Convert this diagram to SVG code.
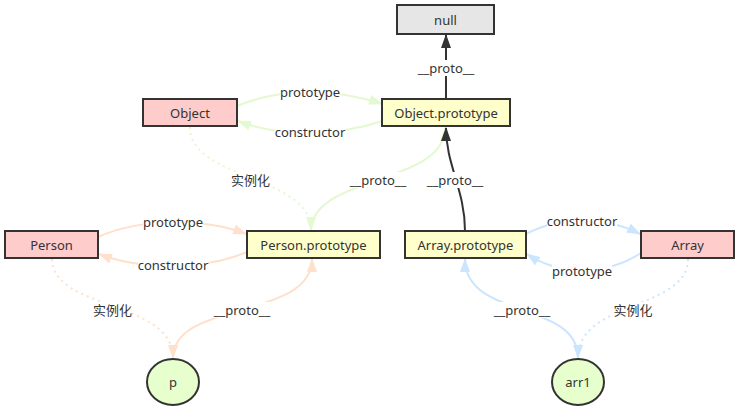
<svg xmlns="http://www.w3.org/2000/svg" width="741" height="409" viewBox="0 0 741 409">
<style>
text{font-family:"Noto Sans","Noto Sans CJK SC",sans-serif;font-size:13px;fill:#333;text-anchor:middle;dominant-baseline:central}
.node{stroke:#333;stroke-width:2}
.ctor{fill:#ffcccc}.proto{fill:#ffffcc}.nul{fill:#e6e6e6}.inst{fill:#e6ffcc}
.e{fill:none;stroke-width:2}
.g{stroke:#e3f9cf}.o{stroke:#ffe0cc}.b{stroke:#cce5ff}.k{stroke:#333}
.dot{stroke-dasharray:2 4}
.lb{fill:#fff}
</style>
<defs>
<marker id="ag" markerUnits="userSpaceOnUse" markerWidth="14" markerHeight="10" refX="13" refY="5" orient="auto"><path d="M0,0L14,5L0,10z" fill="#e3f9cf"/></marker>
<marker id="ao" markerUnits="userSpaceOnUse" markerWidth="14" markerHeight="10" refX="13" refY="5" orient="auto"><path d="M0,0L14,5L0,10z" fill="#ffe0cc"/></marker>
<marker id="ab" markerUnits="userSpaceOnUse" markerWidth="14" markerHeight="10" refX="13" refY="5" orient="auto"><path d="M0,0L14,5L0,10z" fill="#cce5ff"/></marker>
<marker id="ak" markerUnits="userSpaceOnUse" markerWidth="14" markerHeight="10" refX="13" refY="5" orient="auto"><path d="M0,0L14,5L0,10z" fill="#333"/></marker>
</defs>
<g id="connectors">
<path class="e k" d="M446,99L446,35" marker-end="url(#ak)"/>
<path class="e g" d="M237,106C280,88 335,88 382,104" marker-end="url(#ag)"/>
<path class="e g" d="M382,121C335,137 280,137 238,121" marker-end="url(#ag)"/>
<path class="e g dot" d="M190,127C190,180 311,175 311,230" marker-end="url(#ag)"/>
<path class="e g" d="M311,231C311,175 445,185 445,128" marker-end="url(#ag)"/>
<path class="e k" d="M465,231C465,190 446,165 446,128" marker-end="url(#ak)"/>
<path class="e o" d="M98,237C140,218 205,218 246,234" marker-end="url(#ao)"/>
<path class="e o" d="M247,252C205,270 140,270 99,254" marker-end="url(#ao)"/>
<path class="e o dot" d="M52,259C52,310 173,300 173,358" marker-end="url(#ao)"/>
<path class="e o" d="M173,358C173,300 312,320 312,259" marker-end="url(#ao)"/>
<path class="e b" d="M526,234C560,216 605,216 640,234" marker-end="url(#ab)"/>
<path class="e b" d="M641,253C605,276 560,276 527,254" marker-end="url(#ab)"/>
<path class="e b" d="M578,358C578,300 465,320 465,259" marker-end="url(#ab)"/>
<path class="e b dot" d="M688,259C688,310 578,300 578,358" marker-end="url(#ab)"/>
<g id="labels">
<rect class="lb" x="417" y="60" width="58" height="16"/><text x="446" y="68">__proto__</text>
<rect class="lb" x="280" y="84" width="60" height="16"/><text x="310" y="92">prototype</text>
<rect class="lb" x="275" y="124" width="70" height="16"/><text x="310" y="132">constructor</text>
<rect class="lb" x="231" y="172" width="39" height="16"/><text x="250.5" y="180">实例化</text>
<rect class="lb" x="349" y="172" width="58" height="16"/><text x="378" y="180">__proto__</text>
<rect class="lb" x="426" y="172" width="58" height="16"/><text x="455" y="180">__proto__</text>
<rect class="lb" x="143" y="214" width="60" height="16"/><text x="173" y="222">prototype</text>
<rect class="lb" x="138" y="257" width="70" height="16"/><text x="173" y="265">constructor</text>
<rect class="lb" x="93" y="302" width="39" height="16"/><text x="112.5" y="310">实例化</text>
<rect class="lb" x="213" y="302" width="58" height="16"/><text x="242" y="310">__proto__</text>
<rect class="lb" x="547" y="213" width="70" height="16"/><text x="582" y="221">constructor</text>
<rect class="lb" x="552" y="263" width="60" height="16"/><text x="582" y="271">prototype</text>
<rect class="lb" x="493" y="302" width="58" height="16"/><text x="522" y="310">__proto__</text>
<rect class="lb" x="613" y="302" width="39" height="16"/><text x="633" y="310">实例化</text>
</g>
</g>
<g id="null"><rect class="node nul" x="397" y="5" width="97" height="29"/><text x="445.5" y="19.5">null</text></g>
<g id="object"><rect class="node ctor" x="143" y="99" width="94" height="27"/><text x="190" y="112.5">Object</text></g>
<g id="object-prototype"><rect class="node proto" x="382" y="99" width="128" height="27"/><text x="446" y="112.5">Object.prototype</text></g>
<g id="person"><rect class="node ctor" x="5" y="231" width="93" height="27"/><text x="51.5" y="244.5">Person</text></g>
<g id="person-prototype"><rect class="node proto" x="247" y="231" width="133" height="27"/><text x="313.5" y="244.5">Person.prototype</text></g>
<g id="array-prototype"><rect class="node proto" x="405" y="231" width="121" height="27"/><text x="465.5" y="244.5">Array.prototype</text></g>
<g id="array"><rect class="node ctor" x="641" y="231" width="93" height="27"/><text x="687.5" y="244.5">Array</text></g>
<g id="p"><ellipse class="node inst" cx="173" cy="382" rx="26" ry="23"/><text x="173" y="382">p</text></g>
<g id="arr1"><ellipse class="node inst" cx="578" cy="382" rx="26" ry="23"/><text x="578" y="382">arr1</text></g>
</svg>
